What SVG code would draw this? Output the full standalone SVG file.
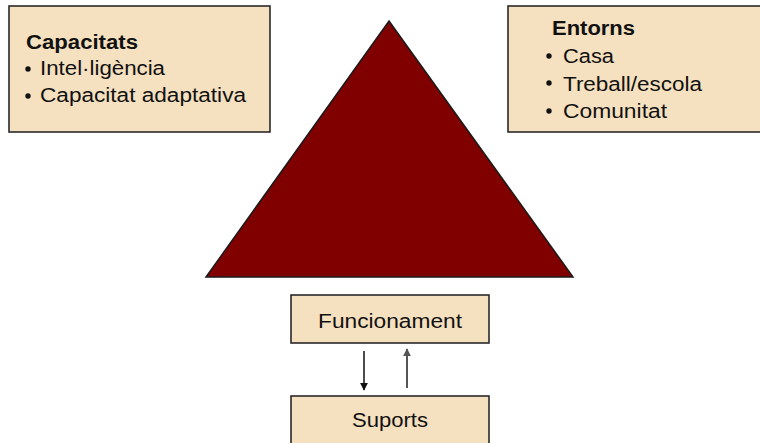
<svg xmlns="http://www.w3.org/2000/svg" width="760" height="443" viewBox="0 0 760 443">
<defs>
<style>
.box{fill:#F5E0BF;stroke:#2a2a2a;stroke-width:1.6}
.t{font-family:"Liberation Sans",Arial,sans-serif;font-size:20px;fill:#111}
.b{font-weight:bold}
.dot{fill:#111}
</style>
<marker id="ahd" viewBox="0 0 10 10" refX="9" refY="5" markerWidth="8" markerHeight="8" markerUnits="userSpaceOnUse" orient="auto"><path d="M0,0 L10,5 L0,10 z" fill="#111"/></marker>
<marker id="ahu" viewBox="0 0 10 10" refX="9" refY="5" markerWidth="8" markerHeight="8" markerUnits="userSpaceOnUse" orient="auto"><path d="M0,0 L10,5 L0,10 z" fill="#555"/></marker>
</defs>
<rect width="760" height="443" fill="#fff"/>
<g id="capacitats">
<rect class="box" x="9" y="6" width="261" height="126"/>
<text class="t b" x="26" y="49" textLength="112" lengthAdjust="spacingAndGlyphs">Capacitats</text>
<circle class="dot" cx="28" cy="69" r="2.7"/>
<text class="t" x="40" y="75" textLength="125" lengthAdjust="spacingAndGlyphs">Intel·ligència</text>
<circle class="dot" cx="28" cy="96" r="2.7"/>
<text class="t" x="40" y="102" textLength="206" lengthAdjust="spacingAndGlyphs">Capacitat adaptativa</text>
</g>
<g id="entorns">
<rect class="box" x="508" y="6" width="262" height="126"/>
<text class="t b" x="552" y="35" textLength="83" lengthAdjust="spacingAndGlyphs">Entorns</text>
<circle class="dot" cx="549" cy="56" r="2.7"/>
<text class="t" x="563" y="63" textLength="51" lengthAdjust="spacingAndGlyphs">Casa</text>
<circle class="dot" cx="549" cy="83" r="2.7"/>
<text class="t" x="563" y="91" textLength="139" lengthAdjust="spacingAndGlyphs">Treball/escola</text>
<circle class="dot" cx="549" cy="111" r="2.7"/>
<text class="t" x="563" y="118" textLength="104" lengthAdjust="spacingAndGlyphs">Comunitat</text>
</g>
<g id="triangle">
<polygon points="389,21 573,277 206,277" fill="#800000" stroke="#1a1a1a" stroke-width="1.5"/>
</g>
<g id="funcionament">
<rect class="box" x="291" y="295" width="198" height="48"/>
<text class="t" x="318" y="328" textLength="144" lengthAdjust="spacingAndGlyphs">Funcionament</text>
</g>
<g id="suports">
<rect class="box" x="291" y="396" width="198" height="52"/>
<text class="t" x="352" y="427" textLength="76" lengthAdjust="spacingAndGlyphs">Suports</text>
</g>
<g id="connectors">
<line x1="364" y1="351" x2="364" y2="390" stroke="#111" stroke-width="1.5" marker-end="url(#ahd)"/>
<line x1="407" y1="388" x2="407" y2="349" stroke="#555" stroke-width="2" marker-end="url(#ahu)"/>
</g>
</svg>
